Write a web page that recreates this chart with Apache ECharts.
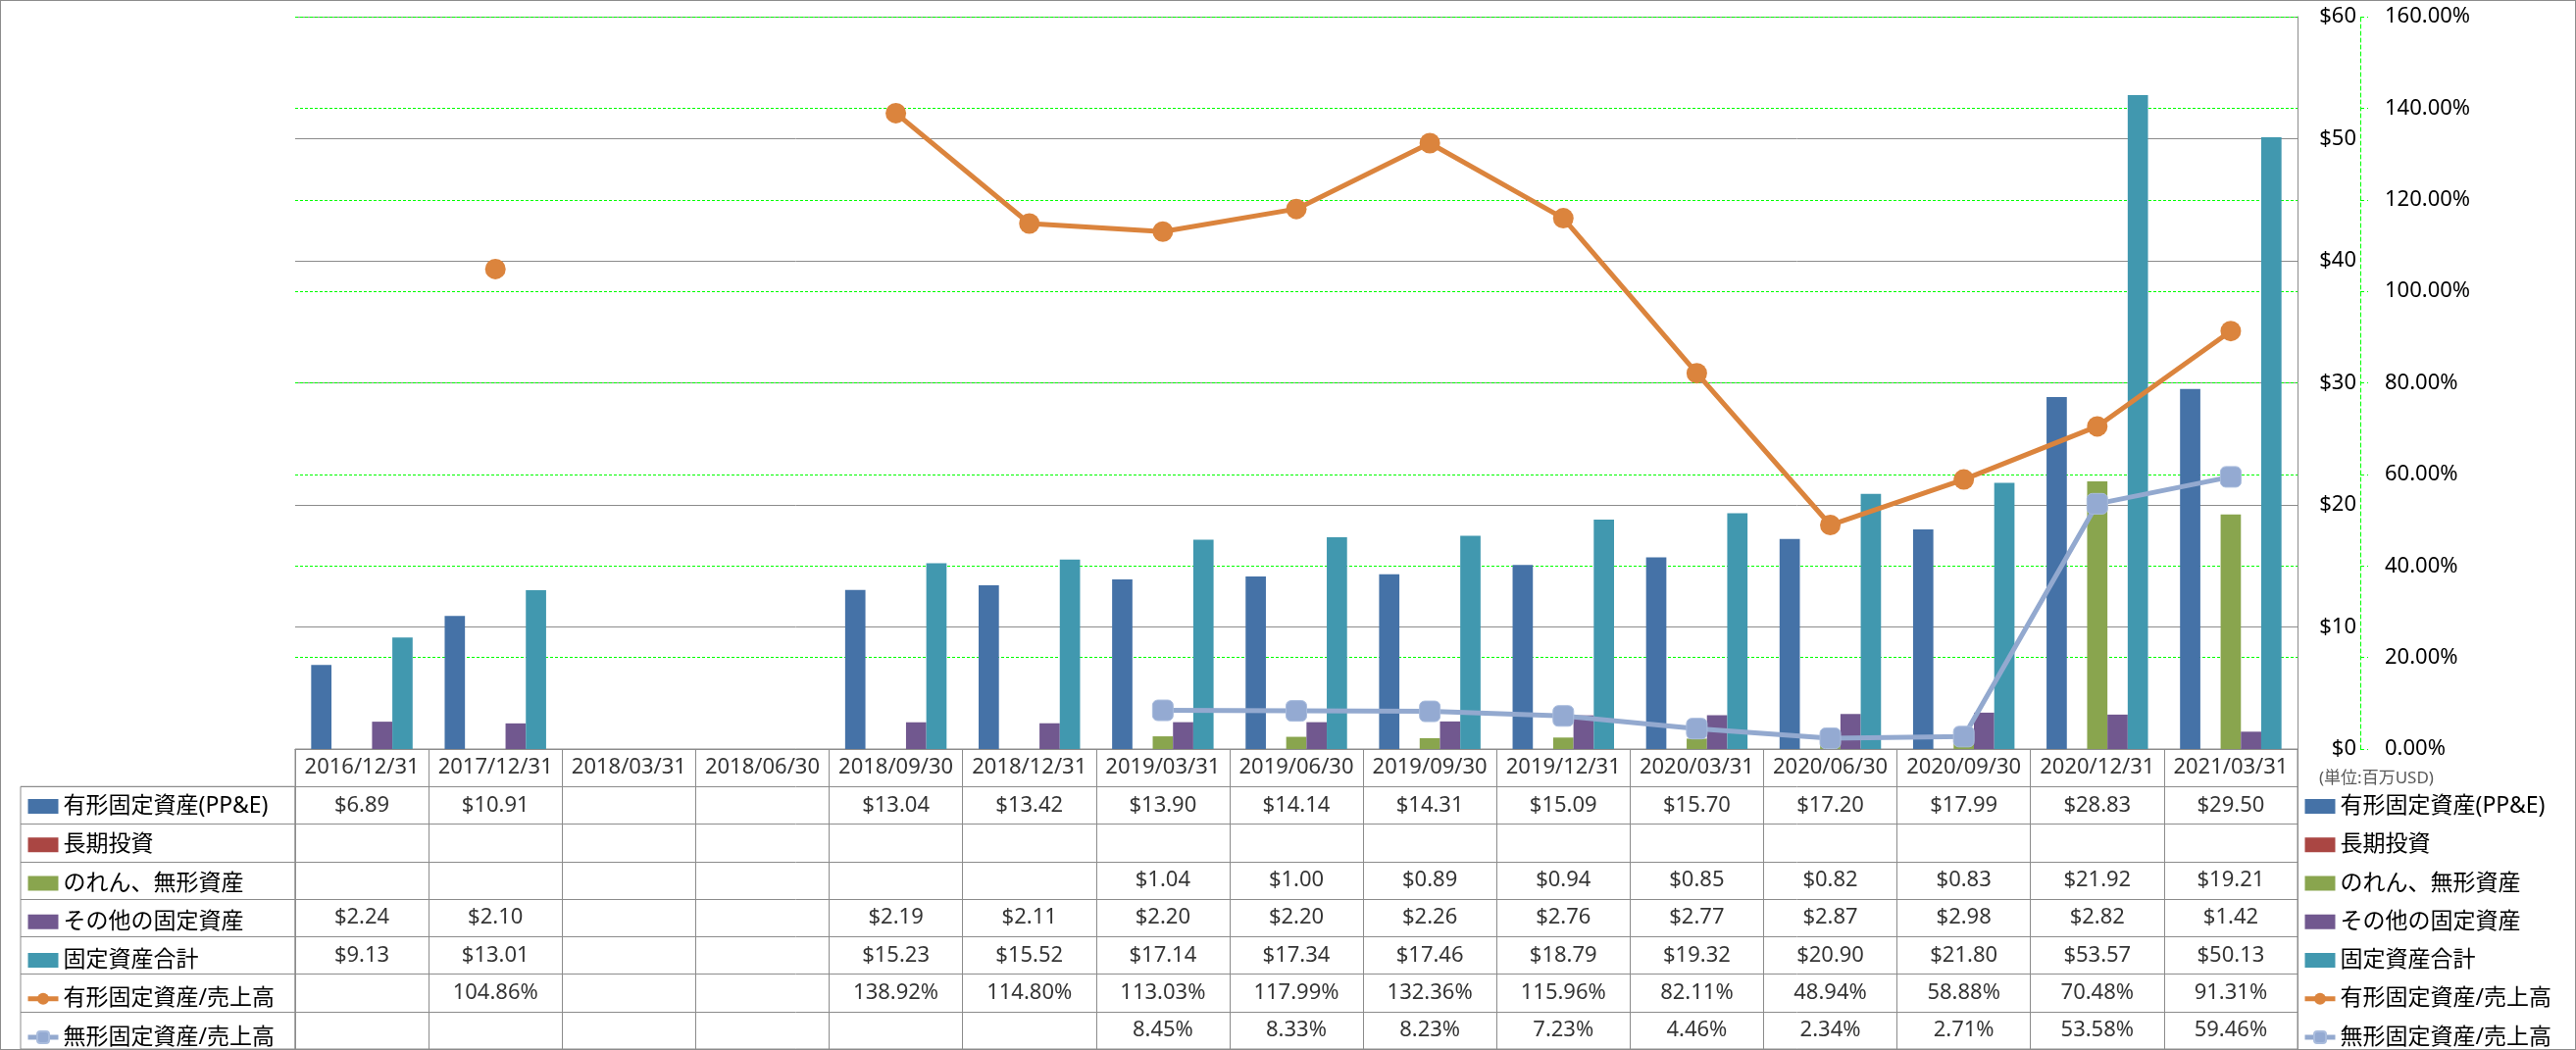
<!DOCTYPE html>
<html>
<head>
<meta charset="utf-8">
<script src="https://cdn.jsdelivr.net/npm/echarts@6/dist/echarts.min.js"></script>
<style>
html,body{margin:0;padding:0;background:#fff;}
#wrap{position:relative;width:2627px;height:1071px;}
#chart{position:absolute;left:0;top:0;width:2627px;height:1071px;}
#frame{position:absolute;left:0;top:0;width:2627px;height:1071px;box-sizing:border-box;border:1px solid #8c8c8c;pointer-events:none;}
</style>
</head>
<body>
<div id="wrap"><div id="chart"></div><div id="frame"></div></div>
<script>
const categories = ['2016/12/31','2017/12/31','2018/03/31','2018/06/30','2018/09/30','2018/12/31','2019/03/31','2019/06/30','2019/09/30','2019/12/31','2020/03/31','2020/06/30','2020/09/30','2020/12/31','2021/03/31'];
const ppe        = [6.89, 10.91, null, null, 13.04, 13.42, 13.90, 14.14, 14.31, 15.09, 15.70, 17.20, 17.99, 28.83, 29.50];
const ltInvest   = [null, null, null, null, null, null, null, null, null, null, null, null, null, null, null];
const goodwill   = [null, null, null, null, null, null, 1.04, 1.00, 0.89, 0.94, 0.85, 0.82, 0.83, 21.92, 19.21];
const otherFixed = [2.24, 2.10, null, null, 2.19, 2.11, 2.20, 2.20, 2.26, 2.76, 2.77, 2.87, 2.98, 2.82, 1.42];
const totalFixed = [9.13, 13.01, null, null, 15.23, 15.52, 17.14, 17.34, 17.46, 18.79, 19.32, 20.90, 21.80, 53.57, 50.13];
const ppeRatio   = [null, 104.86, null, null, 138.92, 114.80, 113.03, 117.99, 132.36, 115.96, 82.11, 48.94, 58.88, 70.48, 91.31];
const intangRatio= [null, null, null, null, null, null, 8.45, 8.33, 8.23, 7.23, 4.46, 2.34, 2.71, 53.58, 59.46];
const usdTicks = [0, 10, 20, 30, 40, 50, 60];
const pctTicks = [0, 20, 40, 60, 80, 100, 120, 140, 160];
const seriesNames = ['有形固定資産(PP&E)','長期投資','のれん、無形資産','その他の固定資産','固定資産合計','有形固定資産/売上高','無形固定資産/売上高'];
const unitText = '(単位:百万USD)';

const colors = ['#4572A7','#AA4643','#89A54E','#71588F','#4198AF','#DB843D','#93A9CF'];
const FONT = "'Noto Sans', 'Noto Sans CJK JP', sans-serif";
const GRAY = '#8c8c8c';
const GREEN = '#00ff00';

// Build table cell data
const usd = v => v == null ? null : '$' + v.toFixed(2);
const pct = v => v == null ? null : v.toFixed(2) + '%';
const rows = [
  categories.map(c => c),
  ppe.map(usd), ltInvest.map(usd), goodwill.map(usd), otherFixed.map(usd), totalFixed.map(usd),
  ppeRatio.map(pct), intangRatio.map(pct)
];
const tableCells = [];
rows.forEach((r, ri) => r.forEach((t, ci) => { if (t != null) tableCells.push([ci, ri, t]); }));

const barSeries = [ppe, ltInvest, goodwill, otherFixed, totalFixed].map((d, i) => ({
  name: seriesNames[i], type: 'bar', xAxisIndex: 0, yAxisIndex: 0, data: d,
  barGap: '0%', barCategoryGap: '24%', itemStyle: {color: colors[i]}
}));

const chart = echarts.init(document.getElementById('chart'));
const legendData = seriesNames.map((n, i) => i >= 5 ? {name: n, lineStyle: {width: 5}} : {name: n, icon: 'rect'});
const legendCommon = {
  orient: 'vertical', itemWidth: 31, itemHeight: 15, itemGap: 16.25, padding: 0, height: 262,
  data: legendData, selectedMode: false,
  textStyle: {fontSize: 23, lineHeight: 22, color: '#000', fontFamily: FONT}
};
chart.setOption({
  animation: false,
  color: colors,
  textStyle: {fontFamily: FONT},
  title: {text: unitText, left: 2360, top: 781, textStyle: {fontSize: 17, fontWeight: 'normal', color: '#595959', fontFamily: FONT}},
  legend: [
    Object.assign({left: 26, top: 811}, legendCommon),
    Object.assign({left: 2348, top: 811}, legendCommon)
  ],
  grid: [
    {left: 301, right: 284, top: 17, bottom: 307, outerBoundsMode: 'none', containLabel: false},
    {left: 301, right: 284, top: 764, bottom: 1, show: true, borderColor: GRAY, borderWidth: 1, backgroundColor: 'transparent', outerBoundsMode: 'none', containLabel: false},
    {left: 21, width: 280, top: 802.25, bottom: 1, show: true, borderColor: GRAY, borderWidth: 1, backgroundColor: 'transparent', outerBoundsMode: 'none', containLabel: false}
  ],
  xAxis: [
    {type: 'category', gridIndex: 0, data: categories, axisLine: {show: true, lineStyle: {color: GRAY}}, axisTick: {show: false}, axisLabel: {show: false}, splitLine: {show: false}},
    {type: 'category', gridIndex: 1, data: categories, axisLine: {show: false}, axisTick: {show: false}, axisLabel: {show: false}, splitLine: {show: true, lineStyle: {color: GRAY, width: 1}}},
    {type: 'value', gridIndex: 2, show: false, min: 0, max: 1}
  ],
  yAxis: [
    {type: 'value', gridIndex: 0, position: 'right', min: usdTicks[0], max: usdTicks[usdTicks.length-1], interval: 10,
     axisLine: {show: true, lineStyle: {color: GRAY}}, axisTick: {show: false},
     axisLabel: {formatter: v => '$' + v, align: 'right', margin: 60, fontSize: 22, color: '#000'},
     splitLine: {show: true, lineStyle: {color: GRAY, width: 1}}},
    {type: 'value', gridIndex: 0, position: 'right', offset: 64, min: pctTicks[0], max: pctTicks[pctTicks.length-1], interval: 20,
     axisLine: {show: true, lineStyle: {color: GREEN, type: [4, 3], width: 1}},
     axisTick: {show: true, length: 8, lineStyle: {color: GREEN, type: [4, 3]}},
     axisLabel: {formatter: v => v.toFixed(2) + '%', margin: 25, fontSize: 22, color: '#000'},
     splitLine: {show: true, lineStyle: {color: GREEN, type: [3, 2], width: 1}}},
    {type: 'category', gridIndex: 1, inverse: true, data: rows.map((r, i) => 'r' + i), axisLine: {show: false}, axisTick: {show: false}, axisLabel: {show: false}, splitLine: {show: true, lineStyle: {color: GRAY, width: 1}}},
    {type: 'category', gridIndex: 2, inverse: true, data: seriesNames, axisLine: {show: false}, axisTick: {show: false}, axisLabel: {show: false}, splitLine: {show: true, lineStyle: {color: GRAY, width: 1}}}
  ],
  series: barSeries.concat([
    {name: seriesNames[5], type: 'line', xAxisIndex: 0, yAxisIndex: 1, data: ppeRatio, connectNulls: false,
     symbol: 'circle', symbolSize: 21, lineStyle: {width: 5, color: colors[5]}, itemStyle: {color: colors[5]}, z: 5},
    {name: seriesNames[6], type: 'line', xAxisIndex: 0, yAxisIndex: 1, data: intangRatio, connectNulls: false,
     symbol: 'roundRect', symbolSize: 21, lineStyle: {width: 5, color: colors[6]}, itemStyle: {color: '#94AAD2', borderColor: '#A9BCDD', borderWidth: 1}, z: 5},
    {name: 'table', type: 'scatter', xAxisIndex: 1, yAxisIndex: 2, data: tableCells, silent: true,
     symbol: 'circle', symbolSize: 1, itemStyle: {color: 'rgba(0,0,0,0)'},
     label: {show: true, position: 'inside', formatter: p => p.value[2], fontSize: 22, color: '#000', fontFamily: FONT}}
  ])
});
</script>
</body>
</html>
